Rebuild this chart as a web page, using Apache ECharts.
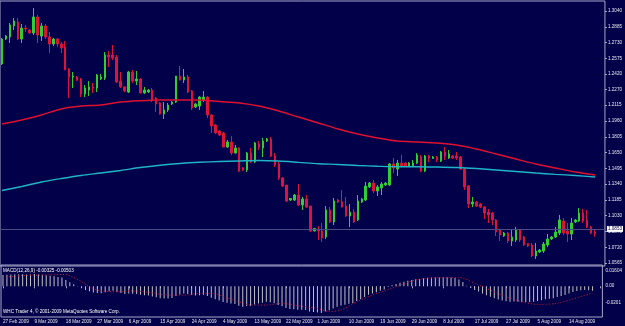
<!DOCTYPE html>
<html>
<head>
<meta charset="utf-8">
<script src="https://cdn.jsdelivr.net/npm/echarts@6.0.0/dist/echarts.min.js"></script>
<style>
html,body{margin:0;padding:0;background:#010048}
#chart{width:625px;height:326px}
</style>
</head>
<body>
<div id="chart"></div>
<script>
// date labels, one every 8 bars (daily bars, Sun-Fri)
const dateLabels = ['27 Feb 2009','9 Mar 2009','18 Mar 2009','27 Mar 2009','6 Apr 2009','15 Apr 2009','24 Apr 2009','4 May 2009','13 May 2009','22 May 2009','1 Jun 2009','10 Jun 2009','19 Jun 2009','29 Jun 2009','8 Jul 2009','17 Jul 2009','27 Jul 2009','5 Aug 2009','14 Aug 2009']
const labelStep = 8

const opens = [1.2520,1.2765,1.2785,1.2893,1.2932,1.2765,1.2873,1.2853,1.2824,1.2981,
1.2794,1.2893,1.2785,1.2716,1.2765,1.2716,1.2686,1.2470,1.2392,1.2392,
1.2372,1.2225,1.2264,1.2294,1.2284,1.2372,1.2382,1.2608,1.2608,1.2588,
1.2352,1.2294,1.2244,1.2441,1.2352,1.2372,1.2235,1.2244,1.2264,1.2186,
1.2137,1.2028,1.2068,1.2127,1.2146,1.2402,1.2362,1.2392,1.2254,1.2097,
1.2107,1.2166,1.2195,1.2019,1.1920,1.1862,1.1842,1.1704,1.1754,1.1645,
1.1695,1.1498,1.1479,1.1645,1.1557,1.1734,1.1695,1.1763,1.1783,1.1616,
1.1538,1.1400,1.1331,1.1184,1.1184,1.1233,1.1135,1.1194,1.1125,1.0880,
1.0899,1.0880,1.0821,1.1086,1.0968,1.1184,1.1164,1.1125,1.1027,1.1066,
1.0988,1.1164,1.1184,1.1312,1.1351,1.1272,1.1302,1.1331,1.1331,1.1538,
1.1488,1.1547,1.1547,1.1518,1.1518,1.1547,1.1606,1.1469,1.1616,1.1592,
1.1606,1.1567,1.1655,1.1596,1.1616,1.1616,1.1606,1.1488,1.1321,1.1145,
1.1164,1.1145,1.1115,1.1066,1.1056,1.0988,1.0889,1.0831,1.0860,1.0781,
1.0791,1.0889,1.0821,1.0757,1.0742,1.0634,1.0673,1.0683,1.0742,1.0801,
1.0821,1.0860,1.0978,1.0880,1.0850,1.0968,1.0978,1.1056,1.0988,1.0919,
1.0870]
const closes = [1.2765,1.2794,1.2903,1.2942,1.2765,1.2873,1.2863,1.2824,1.2981,1.2804,
1.2893,1.2785,1.2716,1.2765,1.2716,1.2677,1.2461,1.2392,1.2402,1.2362,
1.2225,1.2284,1.2294,1.2284,1.2412,1.2392,1.2608,1.2588,1.2578,1.2343,
1.2294,1.2254,1.2441,1.2352,1.2372,1.2235,1.2264,1.2264,1.2166,1.2127,
1.2028,1.2068,1.2117,1.2146,1.2402,1.2362,1.2392,1.2244,1.2087,1.2127,
1.2195,1.2195,1.2019,1.1911,1.1842,1.1822,1.1704,1.1754,1.1645,1.1695,
1.1469,1.1479,1.1645,1.1557,1.1744,1.1704,1.1763,1.1783,1.1616,1.1528,
1.1400,1.1321,1.1174,1.1199,1.1233,1.1135,1.1194,1.1115,1.0880,1.0904,
1.0880,1.0811,1.1086,1.0968,1.1174,1.1164,1.1115,1.1027,1.1066,1.0968,
1.1174,1.1194,1.1321,1.1351,1.1272,1.1312,1.1341,1.1351,1.1538,1.1498,
1.1547,1.1518,1.1518,1.1547,1.1547,1.1626,1.1469,1.1616,1.1596,1.1606,
1.1577,1.1655,1.1616,1.1636,1.1596,1.1596,1.1488,1.1312,1.1145,1.1164,
1.1125,1.1115,1.1056,1.1037,1.0988,1.0870,1.0840,1.0860,1.0781,1.0821,
1.0889,1.0791,1.0742,1.0732,1.0634,1.0683,1.0693,1.0752,1.0801,1.0821,
1.0870,1.0988,1.0860,1.0850,1.0958,1.0988,1.1056,1.0978,1.0919,1.0860,
1.0853]
const lows = [1.2510,1.2755,1.2726,1.2853,1.2755,1.2726,1.2834,1.2814,1.2804,1.2726,
1.2745,1.2765,1.2628,1.2696,1.2686,1.2628,1.2461,1.2186,1.2284,1.2352,
1.2195,1.2195,1.2205,1.2235,1.2244,1.2362,1.2362,1.2490,1.2559,1.2333,
1.2284,1.2244,1.2235,1.2333,1.2313,1.2230,1.2225,1.2235,1.2146,1.2048,
1.2024,1.1979,1.2048,1.2117,1.2137,1.2358,1.2333,1.2235,1.2068,1.2087,
1.2068,1.2146,1.1989,1.1842,1.1832,1.1812,1.1704,1.1695,1.1626,1.1641,
1.1459,1.1469,1.1459,1.1547,1.1547,1.1675,1.1606,1.1754,1.1606,1.1508,
1.1380,1.1312,1.1164,1.1174,1.1174,1.1125,1.1086,1.1105,1.0870,1.0875,
1.0791,1.0772,1.0801,1.0958,1.0938,1.1155,1.1110,1.1017,1.0919,1.0958,
1.0978,1.1155,1.1174,1.1302,1.1253,1.1223,1.1233,1.1321,1.1321,1.1449,
1.1420,1.1508,1.1508,1.1508,1.1508,1.1538,1.1459,1.1459,1.1557,1.1587,
1.1557,1.1557,1.1577,1.1587,1.1587,1.1577,1.1479,1.1282,1.1105,1.1115,
1.1115,1.1105,1.0997,1.0958,1.0938,1.0831,1.0781,1.0821,1.0762,1.0732,
1.0772,1.0772,1.0732,1.0722,1.0624,1.0605,1.0664,1.0664,1.0722,1.0791,
1.0811,1.0840,1.0840,1.0772,1.0791,1.0958,1.0968,1.0958,1.0909,1.0850,
1.0824]
const highs = [1.2775,1.2804,1.2922,1.2971,1.2971,1.2912,1.2903,1.2863,1.3069,1.3001,
1.2922,1.2912,1.2834,1.2775,1.2775,1.2736,1.2745,1.2480,1.2441,1.2402,
1.2382,1.2313,1.2352,1.2333,1.2421,1.2421,1.2637,1.2647,1.2706,1.2608,
1.2441,1.2303,1.2451,1.2461,1.2451,1.2382,1.2294,1.2274,1.2284,1.2195,
1.2146,1.2146,1.2137,1.2156,1.2402,1.2500,1.2470,1.2412,1.2264,1.2137,
1.2205,1.2254,1.2205,1.2028,1.1930,1.1871,1.1852,1.1773,1.1812,1.1724,
1.1704,1.1508,1.1655,1.1695,1.1754,1.1763,1.1793,1.1793,1.1803,1.1645,
1.1557,1.1410,1.1331,1.1204,1.1243,1.1341,1.1214,1.1233,1.1125,1.0909,
1.0929,1.0958,1.1125,1.1115,1.1204,1.1194,1.1282,1.1214,1.1145,1.1096,
1.1233,1.1204,1.1361,1.1361,1.1380,1.1331,1.1361,1.1361,1.1547,1.1596,
1.1577,1.1626,1.1557,1.1557,1.1577,1.1645,1.1626,1.1626,1.1626,1.1616,
1.1616,1.1665,1.1704,1.1675,1.1626,1.1655,1.1616,1.1498,1.1331,1.1214,
1.1174,1.1155,1.1125,1.1096,1.1066,1.0997,1.0899,1.0870,1.0870,1.0889,
1.0919,1.0899,1.0831,1.0762,1.0762,1.0762,1.0703,1.0772,1.0850,1.0831,
1.0919,1.1037,1.1007,1.0958,1.1007,1.0997,1.1105,1.1096,1.1086,1.0929,
1.0889]

// moving averages, read every 5 bars: [bar, value]
const maRed = [[0,1.1930],[5,1.1970],[10,1.2019],[15,1.2078],[20,1.2107],[25,1.2117],[30,1.2146],[35,1.2159],[40,1.2166],[45,1.2166],[50,1.2166],[55,1.2151],[60,1.2137],[65,1.2107],[70,1.2058],[75,1.1999],[80,1.1940],[85,1.1881],[90,1.1832],[95,1.1793],[100,1.1763],[105,1.1754],[110,1.1744],[115,1.1724],[120,1.1685],[125,1.1636],[130,1.1587],[135,1.1538],[140,1.1498],[145,1.1459],[150,1.1430]]
const maCyan = [[0,1.1277],[5,1.1317],[10,1.1361],[15,1.1395],[20,1.1425],[25,1.1449],[30,1.1474],[35,1.1503],[40,1.1525],[45,1.1542],[50,1.1554],[55,1.1562],[60,1.1567],[65,1.1572],[70,1.1567],[75,1.1554],[80,1.1540],[85,1.1533],[90,1.1523],[95,1.1516],[100,1.1511],[105,1.1511],[110,1.1508],[115,1.1503],[120,1.1493],[125,1.1479],[130,1.1464],[135,1.1449],[140,1.1436],[145,1.1425],[150,1.1410]]

// MACD main (histogram) per bar
const macd = [0.0086,0.0087,0.0089,0.0091,0.0090,0.0090,0.0089,0.0088,0.0092,0.0088,
0.0087,0.0084,0.0079,0.0076,0.0071,0.0066,0.0048,0.0030,0.0016,0.0002,
-0.0015,-0.0028,-0.0038,-0.0046,-0.0050,-0.0052,-0.0044,-0.0038,-0.0034,-0.0042,
-0.0050,-0.0058,-0.0054,-0.0056,-0.0058,-0.0064,-0.0068,-0.0070,-0.0076,-0.0082,
-0.0090,-0.0092,-0.0091,-0.0088,-0.0072,-0.0062,-0.0055,-0.0058,-0.0066,-0.0070,
-0.0068,-0.0064,-0.0073,-0.0086,-0.0098,-0.0106,-0.0118,-0.0123,-0.0130,-0.0133,
-0.0146,-0.0153,-0.0148,-0.0146,-0.0136,-0.0130,-0.0123,-0.0116,-0.0120,-0.0128,
-0.0140,-0.0151,-0.0164,-0.0170,-0.0173,-0.0176,-0.0176,-0.0178,-0.0190,-0.0194,
-0.0197,-0.0201,-0.0189,-0.0181,-0.0167,-0.0154,-0.0144,-0.0139,-0.0131,-0.0127,
-0.0111,-0.0097,-0.0080,-0.0064,-0.0054,-0.0044,-0.0034,-0.0024,-0.0006,0.0008,
0.0018,0.0027,0.0034,0.0041,0.0047,0.0054,0.0055,0.0060,0.0064,0.0066,
0.0066,0.0068,0.0068,0.0068,0.0066,0.0063,0.0052,0.0032,0.0005,-0.0012,
-0.0028,-0.0040,-0.0055,-0.0067,-0.0078,-0.0090,-0.0100,-0.0106,-0.0112,-0.0116,
-0.0115,-0.0116,-0.0118,-0.0118,-0.0120,-0.0116,-0.0110,-0.0104,-0.0098,-0.0094,
-0.0090,-0.0080,-0.0072,-0.0066,-0.0055,-0.0043,-0.0035,-0.0030,-0.0028,-0.0030,
-0.00325]
// signal line, read at points: [bar, value]
const signal = [[0,0.0065],[5,0.0081],[10,0.0085],[16,0.0089],[18,0.0065],[20,0.0035],[22,-0.0005],[25,-0.0035],[29,-0.0041],[33,-0.0035],[37,-0.0045],[42,-0.0066],[47,-0.0066],[50,-0.0053],[53,-0.0053],[57,-0.0086],[60,-0.0116],[63,-0.0141],[67,-0.0141],[71,-0.0128],[75,-0.0146],[80,-0.0166],[83,-0.0190],[86,-0.0178],[90,-0.0116],[94,-0.0066],[99,-0.0015],[105,0.0047],[111,0.0065],[116,0.0065],[121,0.0010],[128,-0.0078],[136,-0.0136],[141,-0.0128],[146,-0.0086],[150,-0.00503]]

const priceTicks = [1.3040,1.2885,1.2730,1.2575,1.2420,1.2270,1.2115,1.1960,1.1805,1.1650,1.1495,1.1340,1.1185,1.1030,1.0875,1.0720,1.0565]
const macdTicks = [0.01604, 0, -0.0201]
const macdTickText = ['0.01604', '0.00', '-0.0201']

const bg = '#010048'
const frame = '#a8a8cc'
const txt = '#e8e8f0'
const fs = 4.6
const font = 'Liberation Sans'

let n = opens.length + 2   // chart shift: two empty slots on the right
let cats = []
for (let i = 0; i < n; i++) cats.push(i)

let candles = opens.map((o, i) => [o, closes[i], lows[i], highs[i]])
let last = closes[closes.length - 1]
let sigLast = signal[signal.length - 1][1]

var myChart = echarts.init(document.getElementById('chart'))

var option = {
    backgroundColor: bg,
    animation: false,
    textStyle: {fontFamily: font},
    title: [{
        text: `MACD(12,26,9) ${macd[macd.length - 1].toFixed(5)} ${sigLast.toFixed(5)}`,
        left: 3, top: 268, padding: 0,
        textStyle: {color: '#ffffff', fontSize: fs, fontWeight: 'normal', fontFamily: font}
    }, {
        text: 'WHC Trader 4, © 2001-2009 MetaQuotes Software Corp.',
        left: 3, top: 309.5, padding: 0,
        textStyle: {color: '#ffffff', fontSize: fs, fontWeight: 'normal', fontFamily: font}
    }],
    grid: [
        {left: 0, top: 1, width: 607, height: 265, show: true, borderColor: frame, borderWidth: 1},
        {left: 0, top: 265, width: 607, height: 52, show: true, borderColor: frame, borderWidth: 1}
    ],
    xAxis: [{
        type: 'category', gridIndex: 0, data: cats,
        axisLine: {show: false}, axisTick: {show: false}, axisLabel: {show: false}, splitLine: {show: false}
    }, {
        type: 'category', gridIndex: 1, data: cats,
        axisLine: {show: false},
        axisTick: {show: true, alignWithLabel: true, length: 2, interval: (i) => i % labelStep === 0, lineStyle: {color: frame}},
        axisLabel: {
            show: true, interval: (i) => i % labelStep === 0,
            formatter: (v, i) => dateLabels[i / labelStep] || '',
            align: 'left', margin: 2, color: txt, fontSize: fs, fontFamily: font
        },
        splitLine: {show: false}
    }],
    yAxis: [{
        type: 'value', gridIndex: 0, position: 'right', min: 1.05359, max: 1.31382,
        axisLine: {show: false}, splitLine: {show: false},
        axisTick: {show: true, customValues: priceTicks, length: 2, lineStyle: {color: frame}},
        axisLabel: {customValues: priceTicks, formatter: v => v.toFixed(4), margin: 3, color: txt, fontSize: fs, fontFamily: font}
    }, {
        type: 'value', gridIndex: 1, position: 'right', min: -0.0231, max: 0.01604,
        axisLine: {show: false}, splitLine: {show: false},
        axisTick: {show: false},
        axisLabel: {
            customValues: macdTicks, margin: 3, color: txt, fontSize: fs, fontFamily: font,
            formatter: function (v) {
                let i = macdTicks.findIndex(t => Math.abs(t - v) < 1e-9)
                if (i < 0) return ''
                return '{' + ['t', 'm', 'b'][i] + '|' + macdTickText[i] + '}'
            },
            rich: {
                t: {padding: [12, 0, 0, 0], color: txt, fontSize: fs, fontFamily: font},
                m: {padding: [0, 0, 2, 0], color: txt, fontSize: fs, fontFamily: font},
                b: {padding: [0, 0, 20, 0], color: txt, fontSize: fs, fontFamily: font}
            }
        }
    }],
    series: [{
        type: 'line', xAxisIndex: 0, yAxisIndex: 0, data: maCyan,
        showSymbol: false, smooth: 0.3, lineStyle: {color: '#20b4c8', width: 1.4}
    }, {
        type: 'line', xAxisIndex: 0, yAxisIndex: 0, data: maRed,
        showSymbol: false, smooth: 0.3, lineStyle: {color: '#e01030', width: 1.4}
    }, {
        type: 'candlestick', xAxisIndex: 0, yAxisIndex: 0, data: candles,
        barWidth: 2,
        itemStyle: {color: '#32cd32', color0: '#dc143c', borderColor: '#32cd32', borderColor0: '#dc143c', borderWidth: 1},
        markLine: {
            symbol: 'none', silent: true, animation: false,
            data: [{yAxis: last}],
            lineStyle: {color: '#4c4c84', width: 1, type: 'solid'},
            label: {
                show: true, position: 'end', distance: 2,
                formatter: () => last.toFixed(4),
                backgroundColor: '#ffffff', color: '#000040', fontSize: fs, fontFamily: font, padding: [1, 1, 0, 1]
            }
        }
    }, {
        type: 'bar', xAxisIndex: 1, yAxisIndex: 1, data: macd,
        barWidth: 1, itemStyle: {color: '#c0c0c0'}
    }, {
        type: 'line', xAxisIndex: 1, yAxisIndex: 1, data: signal,
        showSymbol: false, smooth: 0.3, lineStyle: {color: '#d01838', width: 1, type: [1, 2]}
    }]
}

myChart.setOption(option)
</script>
</body>
</html>
